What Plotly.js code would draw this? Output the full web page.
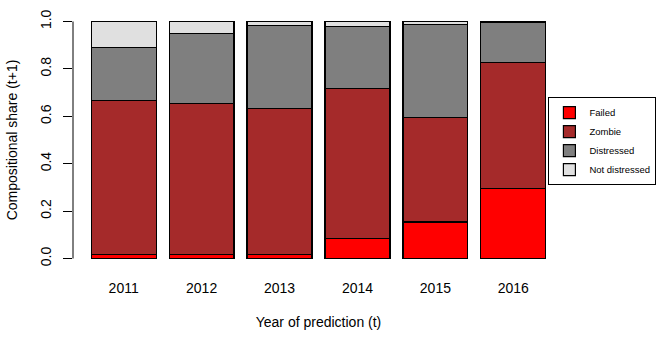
<!DOCTYPE html>
<html>
<head>
<meta charset="utf-8">
<script src="https://cdn.plot.ly/plotly-3.0.1.min.js"></script>
<style>html,body{margin:0;padding:0;background:#fff;}#chart{width:656px;height:353px;}</style>
</head>
<body>
<div id="chart"></div>
<script>
var years = ["2011", "2012", "2013", "2014", "2015", "2016"];
var failed = [0.017, 0.017, 0.017, 0.083, 0.154, 0.294];
var zombie = [0.651, 0.637, 0.616, 0.634, 0.441, 0.533];
var distressed = [0.222, 0.295, 0.350, 0.262, 0.392, 0.170];
var notDistressed = [0.110, 0.051, 0.017, 0.021, 0.013, 0.003];
var seriesNames = ["Failed", "Zombie", "Distressed", "Not distressed"];
var yTicks = [0, 0.2, 0.4, 0.6, 0.8, 1.0];
var yTickText = ["0.0", "0.2", "0.4", "0.6", "0.8", "1.0"];

var colors = ["#FF0000", "#A52A2A", "#7F7F7F", "#E0E0E0"];
var series = [failed, zombie, distressed, notDistressed];
var font = "Liberation Sans, Arial, sans-serif";

var data = series.map(function (vals, i) {
  return {
    type: "bar",
    x: years,
    y: vals,
    name: seriesNames[i],
    marker: { color: colors[i], line: { color: "#000", width: 1.2 } },
    hoverinfo: "skip"
  };
});

var layout = {
  width: 656, height: 353,
  margin: { l: 73, r: 91.5, t: 12, b: 85, pad: 0, autoexpand: false },
  paper_bgcolor: "#fff", plot_bgcolor: "#fff",
  barmode: "stack",
  bargap: 0.1667,
  font: { family: font, size: 14, color: "#000" },
  showlegend: true,
  legend: {
    xref: "container", yref: "container",
    x: 0.836, xanchor: "left", y: 0.60, yanchor: "middle",
    bordercolor: "#000", borderwidth: 1, bgcolor: "rgba(255,255,255,0)",
    traceorder: "normal",
    font: { family: font, size: 9.5, color: "#000" },
    itemclick: false
  },
  xaxis: {
    type: "category",
    range: [-0.65, 5.65],
    showgrid: false, zeroline: false, showline: false,
    ticks: "", ticklabelstandoff: 10,
    tickfont: { family: font, size: 14, color: "#000" },
    title: { text: "Year of prediction (t)", standoff: 22, font: { family: font, size: 14, color: "#000" } }
  },
  yaxis: {
    range: [-0.04, 1.04],
    showgrid: false, zeroline: false, showline: false,
    tickmode: "array", tickvals: yTicks, ticktext: yTickText,
    ticks: "outside", ticklen: 9, tickwidth: 1, tickcolor: "#000",
    tickangle: -90, ticklabelstandoff: 6,
    tickfont: { family: font, size: 14, color: "#000" },
    title: { text: "Compositional share (t+1)", standoff: 17, font: { family: font, size: 14, color: "#000" } }
  },
  shapes: [{
    type: "line", xref: "paper", yref: "y",
    x0: 0, x1: 0, y0: 0, y1: 1,
    line: { color: "#000", width: 1 }
  }]
};

Plotly.newPlot("chart", data, layout, { displayModeBar: false, staticPlot: true });
</script>
</body>
</html>
